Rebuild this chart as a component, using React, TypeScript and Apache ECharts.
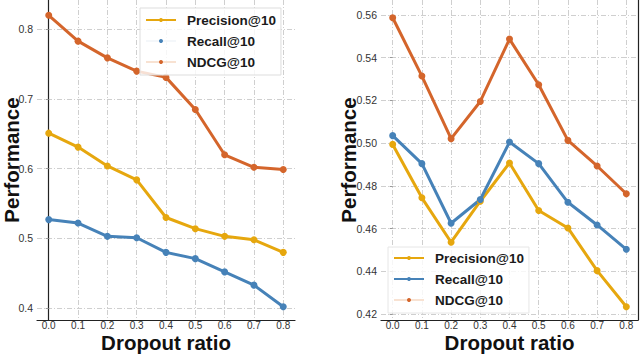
import React, { useEffect, useRef } from "react";
import * as echarts from "echarts";

const dropoutRatios = [0.0, 0.1, 0.2, 0.3, 0.4, 0.5, 0.6, 0.7, 0.8];
const seriesNames = ["Precision@10", "Recall@10", "NDCG@10"];

const leftPrecision = [0.651, 0.631, 0.604, 0.584, 0.53, 0.514, 0.503, 0.498, 0.48];
const leftRecall = [0.527, 0.522, 0.503, 0.501, 0.48, 0.471, 0.452, 0.433, 0.402];
const leftNdcg = [0.82, 0.783, 0.759, 0.74, 0.731, 0.685, 0.62, 0.602, 0.599];

const rightPrecision = [0.4994, 0.4744, 0.4536, 0.4728, 0.4907, 0.4685, 0.4603, 0.4403, 0.4234];
const rightRecall = [0.5035, 0.4904, 0.4625, 0.4736, 0.5005, 0.4904, 0.4723, 0.4617, 0.4503];
const rightNdcg = [0.5587, 0.5314, 0.5021, 0.5195, 0.5487, 0.5273, 0.5013, 0.4893, 0.4763];

const leftYTicks = [0.4, 0.5, 0.6, 0.7, 0.8];
const rightYTicks = [0.42, 0.44, 0.46, 0.48, 0.5, 0.52, 0.54, 0.56];

const COLORS = ["#E6A70E", "#4682B8", "#D4652B"];
const FONT = "'Liberation Sans', Arial, sans-serif";

const pairs = (ys: number[]) => dropoutRatios.map((x, i) => [x, ys[i]]);

export default function App() {
  const ref = useRef<HTMLDivElement>(null);
  useEffect(() => {
    if (!ref.current) return;
    const chart = echarts.init(ref.current, null, { renderer: "svg" });
    const gridLine = { show: true, lineStyle: { color: "#cfcfcf", width: 1, type: [5, 2, 1, 2] } };
    const titleStyle = { fontFamily: FONT, fontWeight: "bold", fontSize: 20.5, lineHeight: 16, color: "#111" };
    const xAxisBase = (gridIndex: number) => ({
      type: "value",
      gridIndex,
      min: -0.04,
      max: 0.84,
      axisLine: { show: true, lineStyle: { color: "#222", width: 1.2 } },
      axisTick: { show: false, customValues: dropoutRatios },
      axisLabel: {
        customValues: dropoutRatios,
        formatter: (v: number) => v.toFixed(1),
        color: "#333",
        fontFamily: FONT,
        fontSize: 10,
        margin: 0.5,
      },
      splitLine: gridLine,
      name: "Dropout ratio",
      nameLocation: "middle",
      nameGap: 14.6,
      nameMoveOverlap: false,
      nameTextStyle: titleStyle,
    });
    const lineSeries = (name: string, data: number[], idx: number, grid: number) => ({
      type: "line",
      name,
      xAxisIndex: grid,
      yAxisIndex: grid,
      data: pairs(data),
      symbol: "circle",
      symbolSize: 7,
      lineStyle: { color: COLORS[idx], width: 3 },
      itemStyle: { color: COLORS[idx] },
      z: 3,
    });
    const legendTextStyle = {
      fontFamily: FONT,
      fontWeight: "bold",
      fontSize: 13.5,
      color: "#1a1a1a",
      padding: [0, 0, 0, 6],
    };
    chart.setOption({
      animation: false,
      grid: [
        { left: 37, right: 345, top: 0, bottom: 34, outerBoundsMode: "none", containLabel: false },
        { left: 381, right: 2, top: 0, bottom: 34, outerBoundsMode: "none", containLabel: false },
      ],
      xAxis: [xAxisBase(0), xAxisBase(1)],
      yAxis: [
        {
          type: "value",
          gridIndex: 0,
          min: 0.383,
          max: 0.842,
          axisLine: { show: true, lineStyle: { color: "#222", width: 1.2 } },
          axisTick: { show: true, length: 3, customValues: leftYTicks, lineStyle: { color: "#999" } },
          axisLabel: {
            customValues: leftYTicks,
            formatter: (v: number) => v.toFixed(1),
            color: "#333",
            fontFamily: FONT,
            fontSize: 10.5,
            margin: 4,
          },
          splitLine: gridLine,
          name: "Performance",
          nameLocation: "middle",
          nameGap: 17.5,
          nameMoveOverlap: false,
          nameTextStyle: titleStyle,
        },
        {
          type: "value",
          gridIndex: 1,
          min: 0.4172,
          max: 0.567,
          axisLine: { show: false },
          axisTick: { show: true, length: 3, customValues: rightYTicks, lineStyle: { color: "#999" } },
          axisLabel: {
            customValues: rightYTicks,
            formatter: (v: number) => v.toFixed(2),
            color: "#333",
            fontFamily: FONT,
            fontSize: 10.5,
            margin: 4,
          },
          splitLine: gridLine,
          name: "Performance",
          nameLocation: "middle",
          nameGap: 25,
          nameMoveOverlap: false,
          nameTextStyle: titleStyle,
        },
        {
          type: "value",
          gridIndex: 1,
          position: "right",
          min: 0.4172,
          max: 0.567,
          axisLine: { show: true, lineStyle: { color: "#222", width: 1.2 } },
          axisTick: { show: false },
          axisLabel: { show: false },
          splitLine: { show: false },
        },
      ],
      legend: [
        {
          orient: "vertical",
          left: 140,
          top: 8,
          padding: [5, 5, 6, 5],
          itemWidth: 30,
          itemHeight: 5,
          itemGap: 7,
          backgroundColor: "rgba(255,255,255,0.8)",
          borderColor: "#dddddd",
          borderWidth: 1,
          textStyle: legendTextStyle,
          data: [
            { name: seriesNames[0], itemStyle: { color: COLORS[0] }, lineStyle: { color: COLORS[0], width: 2 } },
            { name: seriesNames[1], itemStyle: { color: COLORS[1] }, lineStyle: { color: "#f4f7fa", width: 2 } },
            { name: seriesNames[2], itemStyle: { color: COLORS[2] }, lineStyle: { color: "#f8e2d2", width: 2 } },
          ],
          selectedMode: false,
        },
        {
          orient: "vertical",
          left: 388,
          top: 247,
          padding: [4, 5, 6, 5],
          itemWidth: 30,
          itemHeight: 5,
          itemGap: 7,
          backgroundColor: "rgba(255,255,255,0.8)",
          borderColor: "#e6e6e6",
          borderWidth: 1,
          textStyle: legendTextStyle,
          data: [
            { name: seriesNames[0], itemStyle: { color: COLORS[0] }, lineStyle: { color: COLORS[0], width: 2 } },
            { name: seriesNames[1], itemStyle: { color: COLORS[1] }, lineStyle: { color: COLORS[1], width: 2 } },
            { name: seriesNames[2], itemStyle: { color: COLORS[2] }, lineStyle: { color: "#f8e2d2", width: 2 } },
          ],
          selectedMode: false,
        },
      ],
      series: [
        lineSeries(seriesNames[0], leftPrecision, 0, 0),
        lineSeries(seriesNames[1], leftRecall, 1, 0),
        lineSeries(seriesNames[2], leftNdcg, 2, 0),
        lineSeries(seriesNames[0], rightPrecision, 0, 1),
        lineSeries(seriesNames[1], rightRecall, 1, 1),
        lineSeries(seriesNames[2], rightNdcg, 2, 1),
      ],
    });
    return () => chart.dispose();
  }, []);
  return <div ref={ref} style={{ width: 640, height: 354, position: "absolute", left: 0, top: 0 }} />;
}
